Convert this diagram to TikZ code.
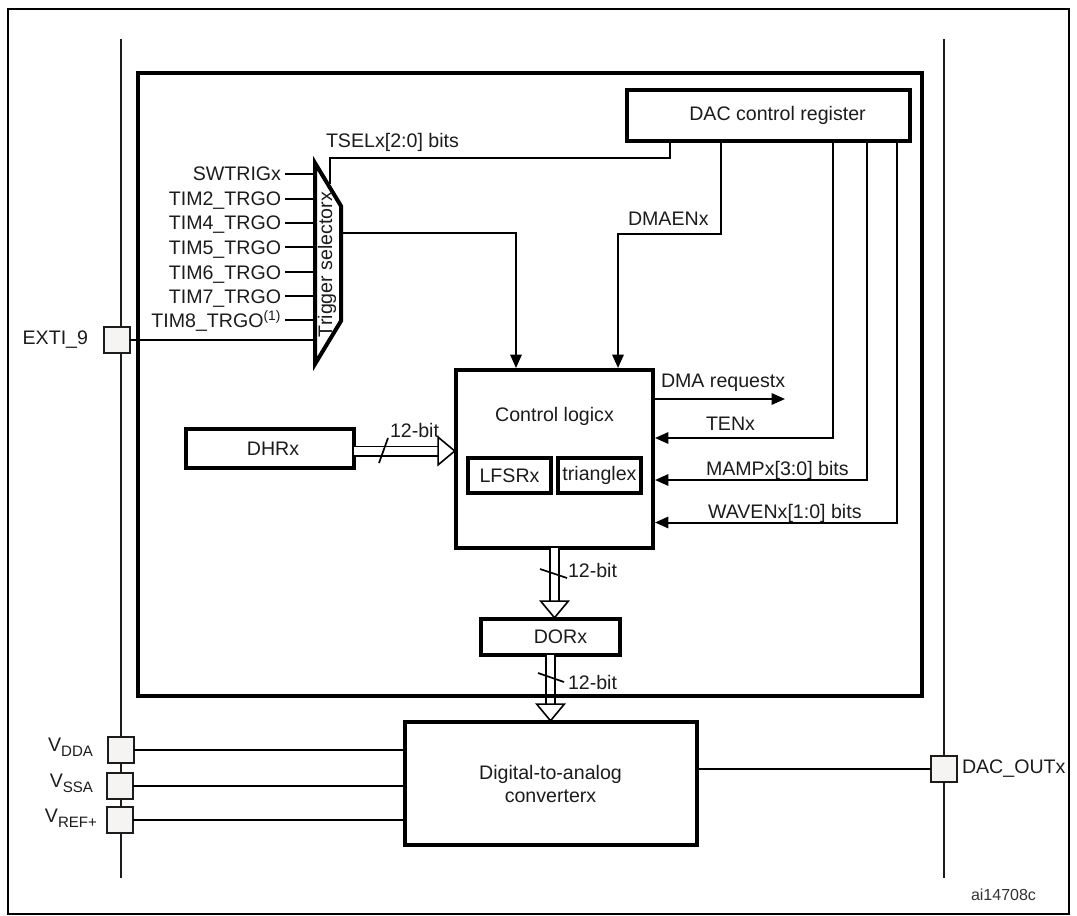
\documentclass[tikz,border=0pt]{standalone}
\usepackage{fontspec}
\usepackage{xcolor}
\usetikzlibrary{positioning}
\usetikzlibrary{arrows.meta}
\setmainfont{Liberation Sans}
\newdimen\px
\px=.75pt
\newcommand{\pinsub}[1]{\raisebox{-5\px}{\fontsize{11.3}{12}\selectfont #1}}
\definecolor{pinfill}{HTML}{F6F3F3}
\definecolor{inkgray}{HTML}{1C1C1C}

\begin{document}
\begin{tikzpicture}[
        x=\px, y=-\px,
        align=center,
        font=\fontsize{14.7}{17.25}\selectfont,
        text=inkgray,
        rail/.style = {line width=2\px, draw=inkgray},
        reg/.style = {draw, line width=4\px, outer sep=0pt, inner sep=0pt},
        pinbox/.style = {draw=inkgray, fill=pinfill, line width=2\px, minimum size=26\px, outer sep=0pt, inner sep=0pt},
        txt/.style = {inner sep=0pt, outer sep=0pt},
        trig/.style = {text width=135\px, align=right, text height=14\px, text depth=0pt, minimum height=24\px, inner sep=0pt, outer ysep=0pt, outer xsep=4\px},
        sig/.style = {line width=2\px, -{Triangle[length=10pt,width=8.5pt]}, shorten >=2\px},
        wire/.style = {line width=2\px},
        bus/.style = {line width=1.7\px, double, double distance=7.6\px, -{Triangle[fill=white,length=14pt,width=23pt,line width=1.2pt]}},
        tick/.style = {line width=1.7\px}
    ]

        \useasboundingbox (0,0) rectangle (1077,916);
        \draw[line width=2\px] (8,9) rectangle (1069,914);

        % rails
        \coordinate (railLtop) at (121,39);
        \coordinate (railLbot) at (121,878);
        \coordinate (railRtop) at (944,39);
        \coordinate (railRbot) at (944,878);
        \draw[rail] (railLtop) -- (railLbot);
        \draw[rail] (railRtop) -- (railRbot);

        % blocks
        \node[reg, minimum width=283\px, minimum height=51\px] (ctrlreg) at (768.5,115.5) {\hspace{18\px}DAC control register};
        \node[reg, minimum width=197\px, minimum height=178\px] (ctl) at (554.5,459) {};
        \node[txt] (ctltitle) [below=37\px of ctl.north] {Control logicx};
        \node[reg, minimum width=83\px, minimum height=35\px] (lfsr) at (509.5,475.5) {LFSRx};
        \node[reg, minimum width=83\px, minimum height=35\px] (tri) [right=7\px of lfsr] {trianglex};
        \node[reg, minimum width=168\px, minimum height=39\px] (dhr) at (270,448.5) {\hspace{6\px}DHRx};
        \node[reg, minimum width=139\px, minimum height=36\px] (dor) [below=71\px of ctl, xshift=-4\px] {\hspace{20\px}DORx};
        \node[reg, minimum width=292\px, minimum height=123\px] (dac) [below=67\px of dor] {Digital-to-analog\\converterx};

        % pins
        \node[pinbox] (exti) at (117,340) {};
        \node[pinbox] (vdda) at (121,749.5) {};
        \node[pinbox] (vssa) [below=10\px of vdda, xshift=-1\px] {};
        \node[pinbox] (vref) [below=8.5\px of vssa] {};
        \node[pinbox] (out) at (944,768.5) {};
        \node[txt] (extilab) [left=16\px of exti] {EXTI\_9};
        \node[txt] (vddalab) [left=15\px of vdda, yshift=2\px] {V\pinsub{DDA}};
        \node[txt] (vssalab) [left=14\px of vssa, yshift=2\px] {V\pinsub{SSA}};
        \node[txt] (vreflab) [left=10\px of vref, yshift=2\px] {V\pinsub{REF+}};
        \node[txt] (outlab) [right=5\px of out] {DAC\_OUTx};

        % trigger selector
        \coordinate (selA) at (315,163);
        \coordinate (selB) at (341,206);
        \coordinate (selC) at (341,321);
        \coordinate (selD) at (315,364);
        \coordinate (selout) at (341,233.5);
        \draw[line width=4\px] (selA) -- (selB) -- (selC) -- (selD) -- cycle;
        \node[txt, rotate=90] (sellab) at (327,264.5) {Trigger selectorx};

        \node[trig] (swtrig) [anchor=east] at (285,174) {SWTRIGx};
        \node[trig] (tim2) [below=1\px of swtrig] {TIM2\_TRGO};
        \node[trig] (tim4) [below=0\px of tim2] {TIM4\_TRGO};
        \node[trig] (tim5) [below=0\px of tim4] {TIM5\_TRGO};
        \node[trig] (tim6) [below=1\px of tim5] {TIM6\_TRGO};
        \node[trig] (tim7) [below=0\px of tim6] {TIM7\_TRGO};
        \node[trig] (tim8) [below=0\px of tim7] {TIM8\_TRGO\textsuperscript{(1)}};

        \draw[wire] (swtrig.east) -- (swtrig.east -| selA);
        \draw[wire] (tim2.east) -- (tim2.east -| selA);
        \draw[wire] (tim4.east) -- (tim4.east -| selA);
        \draw[wire] (tim5.east) -- (tim5.east -| selA);
        \draw[wire] (tim6.east) -- (tim6.east -| selA);
        \draw[wire] (tim7.east) -- (tim7.east -| selA);
        \draw[wire] (tim8.east) -- (tim8.east -| selA);
        \draw[wire] (exti.east) -- (exti.east -| selA);

        % control signals
        \coordinate (tselend) at (330,184);
        \coordinate (tseltap) at (670,141);
        \coordinate (dmatap) at (721,141);
        \coordinate (dmabend) at (618,234);
        \coordinate (seldrop) at (516,370);
        \coordinate (dmaout) at (785,399);
        \coordinate (tentap) at (833,141);
        \coordinate (mamptap) at (867,141);
        \coordinate (waventap) at (897,141);
        \coordinate (tenin) at (653,438);
        \coordinate (mampin) at (653,480);
        \coordinate (wavenin) at (653,522.5);

        \draw[wire] (tseltap) |- (330,158) -- (tselend);
        \draw[sig] (selout) -| (seldrop);
        \draw[sig] (dmatap) |- (dmabend) -- (dmabend |- ctl.north);
        \draw[line width=2\px, -{Triangle[length=10pt,width=8.5pt]}] (dmaout -| ctl.east) -- (dmaout);
        \draw[sig] (tentap) |- (tenin);
        \draw[sig] (mamptap) |- (mampin);
        \draw[sig] (waventap) |- (wavenin);

        \node[txt, anchor=base west] (tsellab) at (326,148) {TSELx[2:0] bits};
        \node[txt, anchor=base west] (dmaenlab) at (628,226) {DMAENx};
        \node[txt, anchor=base west] (dmalab) at (661,387) {DMA requestx};
        \node[txt, anchor=base west] (tenlab) at (706,430) {TENx};
        \node[txt, anchor=base west] (mamplab) at (706,475) {MAMPx[3:0] bits};
        \node[txt, anchor=base west] (wavenlab) at (708,518) {WAVENx[1:0] bits};

        % 12-bit buses
        \coordinate (busin) at (456,451);
        \draw[bus] (dhr.east |- busin) -- (busin);
        \draw[bus] (ctl.south) -- (ctl.south |- dor.north);
        \draw[bus] (dor.south) -- (dor.south |- dac.north);
        \draw[tick] (379,463) -- (388,438);
        \draw[tick] (540,569) -- (567,578);
        \draw[tick] (538,673) -- (564,682);
        \node[txt, anchor=base west] (bitA) at (390,437) {12-bit};
        \node[txt, anchor=base west] (bitB) at (568,577) {12-bit};
        \node[txt, anchor=base west] (bitC) at (568,689) {12-bit};

        % analog side
        \draw[wire] (vdda.east) -- (vdda.east -| dac.west);
        \draw[wire] (vssa.east) -- (vssa.east -| dac.west);
        \draw[wire] (vref.east) -- (vref.east -| dac.west);
        \draw[wire] (out.west -| dac.east) -- (out.west);

        \node[txt, anchor=base west, font=\fontsize{12}{14}\selectfont, text=black!80] (refcode) at (971,900) {ai14708c};

        % chip outline over the buses
        \node[draw, line width=4.5\px, minimum width=784\px, minimum height=623\px, outer sep=0pt] (chip) at (530,384.5) {};

    \end{tikzpicture}
\end{document}
